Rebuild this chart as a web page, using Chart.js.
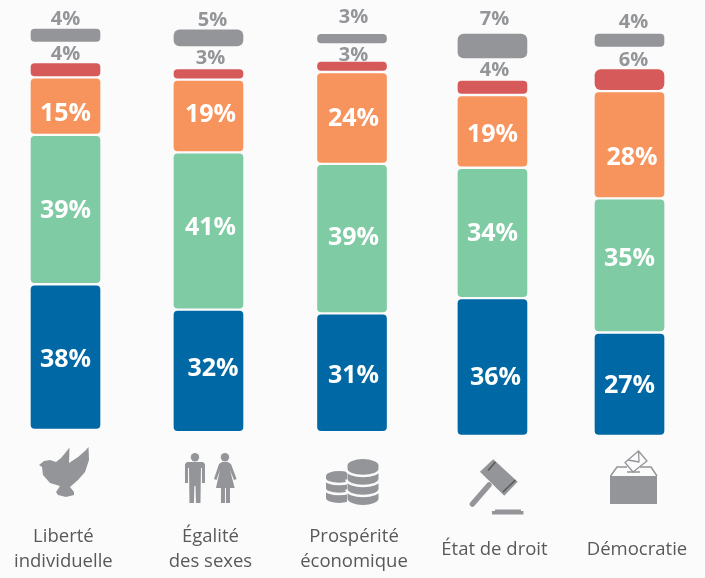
<!DOCTYPE html>
<html><head><meta charset="utf-8">
<style>html,body{margin:0;padding:0;background:#fbfbfb}#w{width:705px;height:578px}canvas{display:block}</style>
<script src="https://cdn.jsdelivr.net/npm/chart.js@4"></script></head>
<body><div id="w"><canvas id="c"></canvas></div>
<script>
const categories = [["Liberté","individuelle"],["Égalité","des sexes"],["Prospérité","économique"],"État de droit","Démocratie"];
const columnSlots = [1, 2.014, 3.032, 4.028, 5];
const tickSlots = [0.985, 2.028, 3.046, 4.042, 5.053];
const blue   = [38, 32, 31, 36, 27];
const green  = [39, 41, 39, 34, 35];
const orange = [15, 19, 24, 19, 28];
const red    = [4, 3, 3, 4, 6];
const gray   = [4, 5, 3, 7, 4];
const liftBelow = [1.6, 1, 1, 0, 0];
const gapAbove  = [5, 5.4, 4.2, 5.3, 5.3];
const BG = '#fbfbfb', LABEL_GRAY = '#939598';

const series = (vals) => vals.map((v,i)=>({x:columnSlots[i],y:v}));
const solid = (label, vals, color, labelMode) => ({label,data:series(vals),backgroundColor:color,borderColor:BG,borderWidth:1.5,borderSkipped:false,
  borderRadius:c=>c.raw&&c.raw.y>=5&&labelMode==='above'?7.5:5.5,labelMode,stack:'s'});
const spacer = (label, vals) => ({label,data:series(vals),backgroundColor:'transparent',borderWidth:0,stack:'s'});

function drawIcons(ctx, xs){
  ctx.save();
  ctx.fillStyle=LABEL_GRAY; ctx.strokeStyle=LABEL_GRAY;
  const poly=(p)=>{ctx.beginPath();p.forEach((q,i)=>i?ctx.lineTo(q[0],q[1]):ctx.moveTo(q[0],q[1]));ctx.closePath();ctx.fill();};
  // bird
  ctx.save();ctx.translate(xs[0]-65.5,0);
  poly([[39,465],[44,461],[50,460],[56,462],[61,458],[66,452],[69.5,447.5],[69,463],[78,457],[85,451],[88.5,447],[89,460],[85,472],[78,480],[70,487],[74,492],[74,495],[66,497],[58,495],[56,492],[60,486],[50,483],[43,475],[42,467]]);
  ctx.restore();
  // people
  ctx.save();ctx.translate(xs[1]-208.5,0);
  ctx.beginPath();ctx.arc(195,457.3,4.2,0,7);ctx.fill();ctx.beginPath();ctx.arc(225,457.3,4.2,0,7);ctx.fill();
  poly([[187,462],[203,462],[205,464],[205,483],[202,483],[202,468],[201,468],[200.5,503],[196,503],[195.6,486],[194.4,486],[194,503],[189.5,503],[189,468],[188,468],[188,483],[185,483],[185,464]]);
  poly([[222,462],[228,462],[231,464],[236.7,479],[234,480],[230,470],[234.7,488],[230,488],[230,503],[226,503],[226,488],[225,488],[225,503],[221,503],[221,488],[216,488],[220,470],[216.5,480],[214,479],[219,464]]);
  ctx.restore();
  // coins
  ctx.save();ctx.translate(xs[2]-352,0);
  const stack=(cx,rx,top,bottom,ry,cuts)=>{
    ctx.fillStyle=LABEL_GRAY;
    ctx.beginPath();ctx.ellipse(cx,top+ry,rx,ry,0,Math.PI,0,false);ctx.lineTo(cx+rx,bottom-ry);ctx.ellipse(cx,bottom-ry,rx,ry,0,0,Math.PI,false);ctx.closePath();ctx.fill();
    ctx.strokeStyle=BG;ctx.lineWidth=2.6;
    cuts.forEach(y=>{ctx.beginPath();ctx.ellipse(cx,y-ry+1,rx+1,ry,0,0,Math.PI,false);ctx.stroke();});
  };
  stack(339,13,471,503,5,[483,493]);
  ctx.fillStyle=BG;ctx.fillRect(347,458,34,50);
  stack(363,15.5,459,505,6.5,[475,485,495]);
  ctx.restore();
  // gavel
  ctx.save();ctx.translate(xs[3]-492.5,0);
  poly([[493.3,459.3],[517.7,481.7],[504.3,495.7],[480,471.7]]);
  ctx.strokeStyle='#58595b';ctx.lineWidth=1.6;
  ctx.beginPath();ctx.moveTo(488,470.5);ctx.lineTo(495.5,462);ctx.moveTo(503,492);ctx.lineTo(515.5,480);ctx.stroke();
  ctx.strokeStyle=LABEL_GRAY;ctx.lineCap='round';ctx.lineWidth=5.5;
  ctx.beginPath();ctx.moveTo(489,485);ctx.lineTo(472.5,504);ctx.stroke();
  ctx.fillRect(492,511,31.5,3.5);ctx.fillRect(495,509.5,26,2);
  ctx.restore();
  // ballot box
  ctx.save();ctx.translate(xs[4]-629.5,0);
  ctx.fillRect(610,476,47,28);
  ctx.lineWidth=1.5;
  ctx.beginPath();ctx.moveTo(610.5,476);ctx.lineTo(617,467);ctx.lineTo(627,467);ctx.moveTo(640,467);ctx.lineTo(651,467);ctx.lineTo(657,476);ctx.stroke();
  ctx.beginPath();ctx.moveTo(627,472);ctx.lineTo(640,472);ctx.stroke();
  ctx.lineJoin='round';ctx.lineWidth=1.3;
  ctx.beginPath();ctx.moveTo(625,462.5);ctx.lineTo(638.5,451);ctx.lineTo(647,461);ctx.lineTo(633,472);ctx.closePath();
  ctx.moveTo(628,460);ctx.lineTo(639,462);ctx.lineTo(638.5,451);ctx.stroke();
  ctx.restore();
  ctx.restore();
}

// Hand-placed label nudges of the original layout, in pixels: [dx, dy] per column.
const labelNudge = {
  Bleu:  [[0,3],[4.5,-2],[1.5,3],[3,11],[0,2]],
  Vert:  [[0,1],[2,-3],[1.5,-1],[0,1],[0,-7]],
  Orange:[[0,8],[2,-1],[1.5,1],[0,4],[2.5,13]],
  Rouge: [[0,-8],[2,-10],[1.5,-5],[2,-9],[4,-8]],
  Gris:  [[0,-8],[4,-8],[1.5,-16],[2,-13],[4,-10]]
};

const overlay = {id:'overlay',
 beforeDatasetsDraw(chart){
  chart.data.datasets.forEach((ds,di)=>{ if(ds.labelMode) chart.getDatasetMeta(di).data.forEach(b=>{b.enableBorderRadius=true;}); });
 },
 afterDatasetsDraw(chart){
  const ctx=chart.ctx, xs=columnSlots.map(v=>chart.scales.x.getPixelForValue(v));
  ctx.save();ctx.textAlign='center';ctx.textBaseline='middle';
  chart.data.datasets.forEach((ds,di)=>{
    if(!ds.labelMode) return;
    chart.getDatasetMeta(di).data.forEach((bar,i)=>{
      const txt=ds.data[i].y+'%', n=labelNudge[ds.label][i];
      if(ds.labelMode==='inside'){
        ctx.font='bold 25px "Open Sans"';ctx.fillStyle='#ffffff';
        ctx.fillText(txt,bar.x+n[0],(bar.y+bar.base)/2+n[1]);
      } else {
        ctx.font='bold 20px "Open Sans"';ctx.fillStyle=LABEL_GRAY;
        ctx.fillText(txt,bar.x+n[0],bar.y+n[1]);
      }
    });
  });
  ctx.restore();
  drawIcons(ctx,xs);
}};

new Chart(document.getElementById('c'),{
  type:'bar',
  data:{datasets:[
    spacer('lift',liftBelow),
    solid('Bleu',blue,'#0068a5','inside'),
    solid('Vert',green,'#7fcba4','inside'),
    solid('Orange',orange,'#f7945d','inside'),
    solid('Rouge',red,'#d65a5a','above'),
    spacer('gap',gapAbove),
    solid('Gris',gray,'#939598','above')
  ]},
  plugins:[overlay],
  options:{
    responsive:true,maintainAspectRatio:false,animation:false,
    layout:{padding:{top:3,bottom:3,left:0,right:0}},
    datasets:{bar:{barThickness:72}},
    plugins:{legend:{display:false},tooltip:{enabled:false},title:{display:false}},
    scales:{
      x:{type:'linear',offset:false,min:1-65.5/141,max:1-65.5/141+705/141,stacked:true,
        grid:{display:false,drawTicks:true,tickLength:101},border:{display:false},
        afterBuildTicks(s){s.ticks=tickSlots.map(v=>({value:v}));},
        afterFit(s){s.height=139;},
        ticks:{autoSkip:false,maxRotation:0,minRotation:0,padding:0,crossAlign:'center',color:'#58595b',
          font:{family:'"Open Sans"',size:18.5,lineHeight:25/18.5},
          callback(v,i){return categories[i];}}},
      y:{display:false,stacked:true,min:0,max:113}
    }
  }
});
</script></body></html>
